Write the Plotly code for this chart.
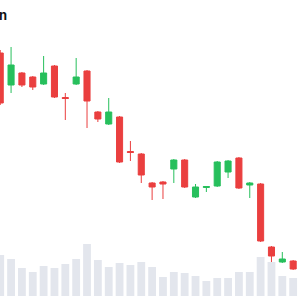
import plotly.graph_objects as go

# ---- data ----
idx = list(range(29))
open_ = [149.4, 143.0, 145.4, 144.6, 143.2, 146.8, 140.5, 143.2, 145.8, 137.6,
         135.2, 136.6, 129.7, 129.2, 123.4, 123.6, 126.2, 128.0, 120.6, 122.5,
         122.8, 125.6, 128.4, 123.0, 123.2, 110.6, 107.6, 107.8, 108.4]
high = [150.0, 150.6, 145.6, 144.8, 148.8, 147.0, 141.4, 148.4, 146.0, 137.8,
        140.4, 136.8, 131.8, 129.4, 123.6, 123.8, 128.2, 128.2, 123.2, 122.8,
        127.8, 128.0, 128.6, 123.6, 123.4, 110.8, 109.6, 108.0, 110.0]
low = [139.0, 141.4, 142.6, 142.0, 143.0, 140.4, 136.0, 143.0, 134.4, 135.6,
       135.0, 127.4, 127.8, 123.4, 120.0, 120.2, 123.4, 122.4, 120.4, 121.6,
       122.6, 124.4, 122.2, 120.4, 111.6, 105.8, 107.4, 106.0, 108.0]
close = [139.4, 147.0, 143.0, 142.6, 145.4, 140.6, 140.3, 144.6, 139.8, 136.2,
         137.6, 127.6, 129.5, 125.0, 122.6, 123.2, 128.0, 122.6, 122.6, 122.7,
         127.6, 127.8, 122.4, 123.4, 111.8, 108.8, 108.2, 106.2, 109.2]
volume = [4100, 3700, 2800, 2400, 3000, 2800, 3200, 3700, 5200, 3600,
          2900, 3300, 3100, 3400, 2900, 1900, 2400, 2300, 2000, 1500,
          1800, 1800, 2400, 2400, 3900, 3400, 2000, 1800, 2000]
title_tail = "n"

RED = "#ea3f3f"
GREEN = "#27bf5c"

fig = go.Figure()
fig.add_trace(go.Bar(
    x=idx, y=volume, yaxis="y2", marker_color="#e3e6ed",
    marker_line_width=0, width=0.72, showlegend=False, hoverinfo="skip"))
fig.add_trace(go.Candlestick(
    x=idx, open=open_, high=high, low=low, close=close,
    increasing=dict(line=dict(color=GREEN, width=1), fillcolor=GREEN),
    decreasing=dict(line=dict(color=RED, width=1), fillcolor=RED),
    whiskerwidth=0, showlegend=False, yaxis="y"))

fig.update_layout(
    width=300, height=300,
    margin=dict(l=0, r=0, t=0, b=0),
    paper_bgcolor="white", plot_bgcolor="white",
    boxgap=0.2,
    xaxis=dict(range=[-0.02, 27.63], visible=False, rangeslider=dict(visible=False),
               showgrid=False, zeroline=False),
    yaxis=dict(range=[100, 160], visible=False, showgrid=False, zeroline=False),
    yaxis2=dict(range=[-400, 29600], overlaying="y", visible=False,
                showgrid=False, zeroline=False),
    annotations=[dict(text="<b>" + title_tail + "</b>", xref="paper", yref="paper",
                      x=0, y=1 - 15 / 300, xanchor="left", yanchor="middle",
                      xshift=-3, showarrow=False,
                      font=dict(size=13, color="#111", family="Inter"))],
)

fig.write_html("out.html")
